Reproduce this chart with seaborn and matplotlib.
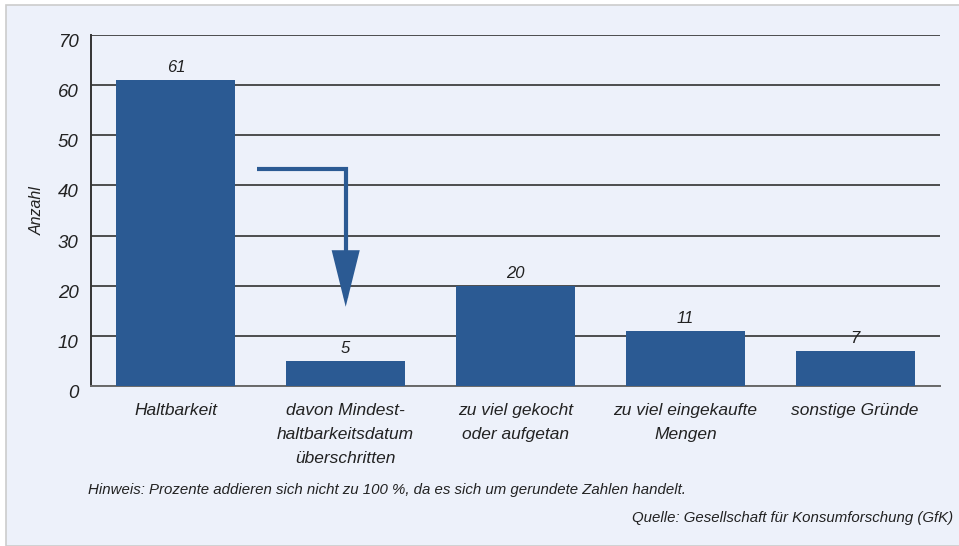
import matplotlib
matplotlib.use("Agg")
import matplotlib.pyplot as plt
import matplotlib.transforms as mtransforms
from matplotlib.patches import Rectangle
import pandas as pd
import seaborn as sns

categories = ["Haltbarkeit",
              "davon Mindest-\nhaltbarkeitsdatum\nüberschritten",
              "zu viel gekocht\noder aufgetan",
              "zu viel eingekaufte\nMengen",
              "sonstige Gründe"]
values = [61, 5, 20, 11, 7]
y_ticks = [0, 10, 20, 30, 40, 50, 60, 70]
arrow_start = (0.48, 43.3)
arrow_end = (1.0, 15.8)
note = "Hinweis: Prozente addieren sich nicht zu 100 %, da es sich um gerundete Zahlen handelt."
source = "Quelle: Gesellschaft für Konsumforschung (GfK)"

bar_col = "#2B5A93"
bg = "#EDF1FA"
txt = "#222222"

sns.set_style("white")
plt.rcParams['font.family'] = ['Liberation Sans', 'DejaVu Sans']
plt.rcParams['font.style'] = 'italic'

df = pd.DataFrame({"Grund": categories, "Anzahl": values})

fig = plt.figure(figsize=(9.59, 5.46), dpi=100, facecolor="white")
fig.patches.append(Rectangle((6 / 959, 0), 1, 1 - 5 / 546, transform=fig.transFigure,
                             facecolor=bg, edgecolor="#cccccc", lw=1.2, zorder=-10))
ax = fig.add_axes([91 / 959, 1 - 386 / 546, 849 / 959, 351 / 546])
ax.set_facecolor(bg)

sns.barplot(data=df, x="Grund", y="Anzahl", color=bar_col, width=0.7,
            saturation=1, linewidth=0, ax=ax, zorder=3)

ax.set_xlim(-0.5, 4.5)
ax.set_ylim(0, 70)
ax.set_yticks(y_ticks)
ax.yaxis.grid(True, color="#404040", lw=1.3, zorder=0)
ax.set_axisbelow(True)

for s in ["top", "right"]:
    ax.spines[s].set_visible(False)
ax.spines["left"].set_color("#333333")
ax.spines["left"].set_linewidth(1.4)
ax.spines["bottom"].set_color("#6a6a6a")
ax.spines["bottom"].set_linewidth(1.4)

ax.tick_params(axis="y", length=0, pad=9, labelsize=13.5, labelcolor=txt)
off = mtransforms.ScaledTranslation(0, -4 / 72, fig.dpi_scale_trans)
for lab in ax.get_yticklabels():
    lab.set_transform(lab.get_transform() + off)

ax.set_xticks(range(len(categories)))
ax.set_xticklabels(categories)
ax.tick_params(axis="x", which="major", length=0, pad=12, labelsize=12.5, labelcolor=txt)
for lab in ax.get_xticklabels():
    lab.set_linespacing(1.78)
ax.set_xticks([0.5, 1.5, 2.5, 3.5, 4.5], minor=True)
ax.tick_params(axis="x", which="minor", direction="in", length=5, width=1.2, color="#555555")
for t in ax.xaxis.get_minor_ticks():
    t.tick1line.set_clip_on(False)

ax.set_xlabel("")
ax.set_ylabel("Anzahl", fontsize=11.5, color=txt)
ax.yaxis.set_label_coords((45 - 91) / 849, 0.5)

for c in ax.containers:
    ax.bar_label(c, fmt="%d", padding=3.5, fontsize=12, color=txt)

ax.annotate("", xy=arrow_end, xytext=arrow_start,
            arrowprops=dict(arrowstyle="-|>,head_length=3.3,head_width=0.82",
                            connectionstyle="angle,angleA=0,angleB=90,rad=0",
                            color=bar_col, lw=3, shrinkA=0, shrinkB=0,
                            mutation_scale=10, joinstyle="miter", capstyle="butt"),
            zorder=4)

fig.text(88 / 959, 1 - 490 / 546, note, ha="left", va="center", fontsize=10.8, color=txt)
fig.text(953 / 959, 1 - 518 / 546, source, ha="right", va="center", fontsize=10.8, color=txt)

fig.savefig("out.png", dpi=100, facecolor=fig.get_facecolor())
